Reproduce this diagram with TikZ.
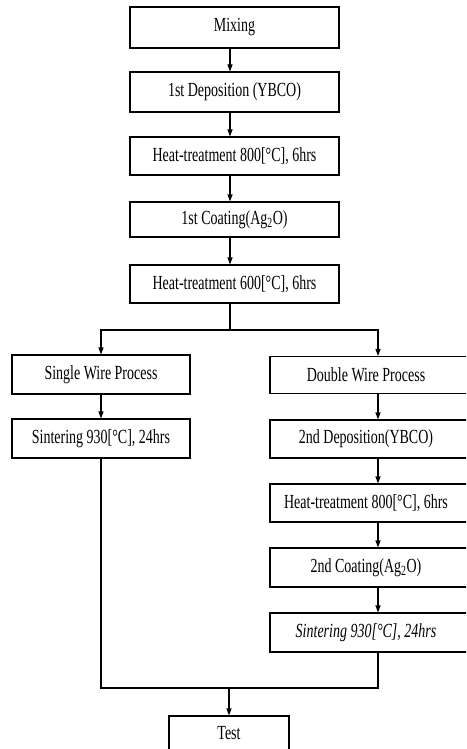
\documentclass[tikz,border=0pt]{standalone}
\usepackage{fontspec}
\setmainfont{Liberation Serif}[FakeStretch=0.7]
\usetikzlibrary{arrows.meta}
\tikzset{
  box/.style={draw, line width=1.1pt, inner sep=0pt, font=\fontsize{20}{22}\selectfont},
  rbox/.style={box, minimum width=210pt, execute at begin node={\kern-18pt}},
  flow/.style={line width=1.1pt, -{Triangle[length=7pt,width=5pt]}},
  plain/.style={line width=1.1pt}
}
\begin{document}
\begin{tikzpicture}[x=1pt,y=-1pt]
\useasboundingbox (0,0) rectangle (466,749);
\clip (0,0) rectangle (466,749);
% central column
\node[box, minimum width=209pt, minimum height=41pt] (mix) at (234.5,27.5) {Mixing};
\node[box, minimum width=209pt, minimum height=40pt] (dep1) at (234.5,92) {1st Deposition (YBCO)};
\node[box, minimum width=209pt, minimum height=38pt] (ht1) at (234.5,156) {Heat-treatment 800[\textdegree C], 6hrs};
\node[box, minimum width=209pt, minimum height=35pt] (coat1) at (234.5,219.5) {1st Coating(Ag\textsubscript{2}O)};
\node[box, minimum width=209pt, minimum height=38pt] (ht2) at (234.5,284) {Heat-treatment 600[\textdegree C], 6hrs};
% left column
\node[box, minimum width=178pt, minimum height=39pt] (single) at (101,374.5) {Single Wire Process};
\node[box, minimum width=178pt, minimum height=39pt] (sintL) at (101,438.5) {Sintering 930[\textdegree C], 24hrs};
% right column
\node[rbox, minimum height=37pt] (double) at (375,375) {Double Wire Process};
\node[rbox, minimum height=38pt] (dep2) at (375,439) {2nd Deposition(YBCO)};
\node[rbox, minimum height=38pt] (ht3) at (375,503) {Heat-treatment 800[\textdegree C], 6hrs};
\node[rbox, minimum height=39pt] (coat2) at (375,567.5) {2nd Coating(Ag\textsubscript{2}O)};
\node[rbox, minimum height=39pt] (sintR) at (375,632.5) {\itshape Sintering 930[\textdegree C], 24hrs};
% test
\node[box, minimum width=120pt, minimum height=38pt] (test) at (229,735) {};
\node[font=\fontsize{20}{22}\selectfont] (testlbl) at (229,733) {Test};
% spine coordinates
\coordinate (spine) at (230,0);
\coordinate (rcol) at (378,0);
\coordinate (split) at (230,330);
\coordinate (merge) at (229,688);
% central arrows
\draw[flow] (mix.south -| spine) -- (dep1.north -| spine);
\draw[flow] (dep1.south -| spine) -- (ht1.north -| spine);
\draw[flow] (ht1.south -| spine) -- (coat1.north -| spine);
\draw[flow] (coat1.south -| spine) -- (ht2.north -| spine);
% split
\draw[plain] (ht2.south -| spine) -- (split);
\draw[flow] (split) -| (single.north);
\draw[flow] (split) -| (double.north -| rcol);
% left
\draw[flow] (single) -- (sintL);
% right
\draw[flow] (double.south -| rcol) -- (dep2.north -| rcol);
\draw[flow] (dep2.south -| rcol) -- (ht3.north -| rcol);
\draw[flow] (ht3.south -| rcol) -- (coat2.north -| rcol);
\draw[flow] (coat2.south -| rcol) -- (sintR.north -| rcol);
% merge
\draw[plain] (sintL.south) |- (merge) -| (sintR.south -| rcol);
\draw[flow] (merge) -- (test.north);
\end{tikzpicture}
\end{document}
